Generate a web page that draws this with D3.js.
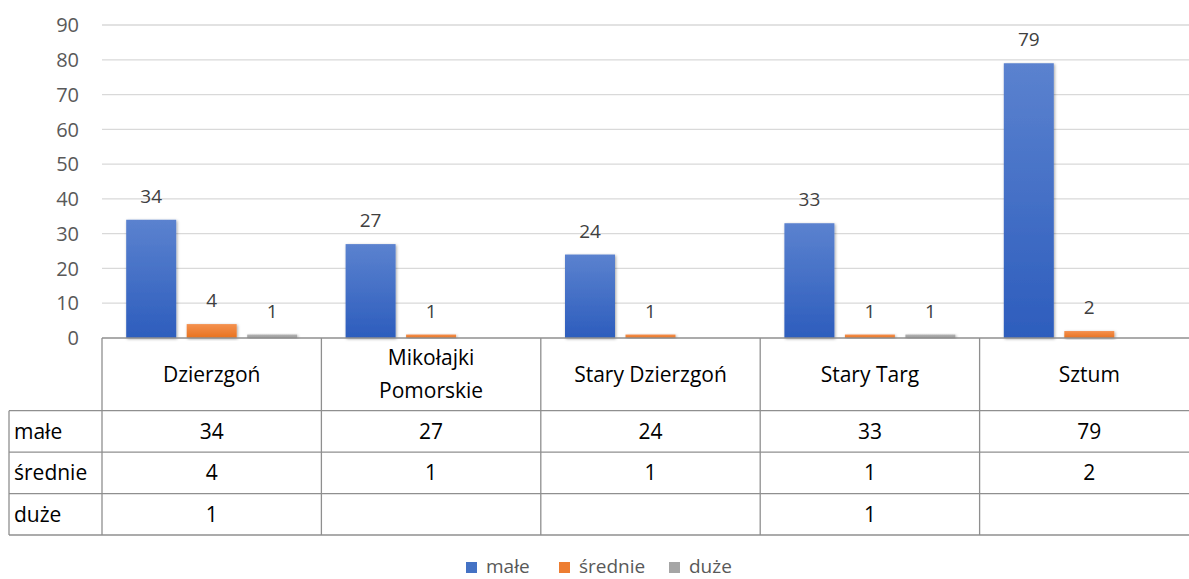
<!DOCTYPE html>
<html>
<head>
<meta charset="utf-8">
<script src="https://cdn.jsdelivr.net/npm/d3@7"></script>
<style>
  body { margin: 0; background: #fff; }
  text { font-family: "Open Sans", Lato, sans-serif; }
</style>
</head>
<body>
<div id="grafico"></div>
<script>
// Datos del grafico
var categorias = ["Dzierzgoń", "Mikołajki Pomorskie", "Stary Dzierzgoń", "Stary Targ", "Sztum"];
var series = ["małe", "średnie", "duże"];
var male = [34, 27, 24, 33, 79];
var srednie = [4, 1, 1, 1, 2];
var duze = [1, null, null, 1, null];
var ticksY = [0, 10, 20, 30, 40, 50, 60, 70, 80, 90];

var valores = [male, srednie, duze];
var colores = [["#5b82cf", "#2d5dbd"], ["#f4914f", "#e8721f"], ["#b3b3b3", "#999999"]];
var legendColor = ["#4472c4", "#ed7d31", "#a5a5a5"];

var W = 1189, H = 579;
var left = 102, right = 1199, top0 = 25, base = 338;
var rowH = [410.7, 452.2, 493.6, 535];
var tablaLeft = 9;

var svg = d3.select("#grafico").append("svg")
  .attr("width", W).attr("height", H);

var defs = svg.append("defs");
colores.forEach(function(c, i) {
  var g = defs.append("linearGradient").attr("id", "grad" + i)
    .attr("x1", 0).attr("y1", 0).attr("x2", 0).attr("y2", 1);
  g.append("stop").attr("offset", "0%").attr("stop-color", c[0]);
  g.append("stop").attr("offset", "100%").attr("stop-color", c[1]);
});
var f = defs.append("filter").attr("id", "sombra")
  .attr("x", "-20%").attr("y", "-20%").attr("width", "140%").attr("height", "140%");
f.append("feDropShadow").attr("dx", 1).attr("dy", 1).attr("stdDeviation", 1.5)
  .attr("flood-color", "#000").attr("flood-opacity", 0.35);

// Escalas
var x = d3.scaleBand().domain(categorias).range([left, right]).padding(0);
var xs = d3.scaleBand().domain(series).range([0, x.bandwidth()])
  .paddingInner(0.1736).paddingOuter(0.40);
var y = d3.scaleLinear().domain([0, 90]).range([base, top0]);

// Lineas de cuadricula
svg.append("g").selectAll("line").data(ticksY.slice(1)).enter().append("line")
  .attr("x1", left).attr("x2", W)
  .attr("y1", function(d) { return y(d); }).attr("y2", function(d) { return y(d); })
  .attr("stroke", "#d9d9d9").attr("stroke-width", 1.3);

// Etiquetas eje Y
svg.append("g").selectAll("text").data(ticksY).enter().append("text")
  .attr("x", 79).attr("y", function(d) { return y(d); })
  .attr("dy", "0.36em").attr("text-anchor", "end")
  .attr("fill", "#595959").style("font-size", "20px")
  .text(function(d) { return d; });

// Barras
var grupos = svg.append("g").selectAll("g").data(categorias).enter().append("g")
  .attr("transform", function(d) { return "translate(" + x(d) + ",0)"; });

series.forEach(function(s, si) {
  grupos.filter(function(d, i) { return valores[si][i] != null; })
    .append("rect")
    .attr("x", xs(s))
    .attr("width", xs.bandwidth())
    .attr("y", function(d) { return y(valores[si][categorias.indexOf(d)]); })
    .attr("height", function(d) { return base - y(valores[si][categorias.indexOf(d)]); })
    .attr("fill", "url(#grad" + si + ")")
    .attr("filter", "url(#sombra)");

  grupos.filter(function(d, i) { return valores[si][i] != null; })
    .append("text")
    .attr("x", xs(s) + xs.bandwidth() / 2)
    .attr("y", function(d) { return y(valores[si][categorias.indexOf(d)]) - 17; })
    .attr("text-anchor", "middle")
    .attr("fill", "#404040").style("font-size", "19px")
    .text(function(d) { return valores[si][categorias.indexOf(d)]; });
});

// Tabla de datos
var tabla = svg.append("g").attr("stroke", "#8f8f8f").attr("stroke-width", 1.3);
tabla.append("line").attr("x1", left).attr("x2", W).attr("y1", base).attr("y2", base);
rowH.forEach(function(r) {
  tabla.append("line").attr("x1", tablaLeft).attr("x2", W).attr("y1", r).attr("y2", r);
});
tabla.append("line").attr("x1", tablaLeft).attr("x2", tablaLeft).attr("y1", rowH[0]).attr("y2", rowH[3]);
categorias.forEach(function(c) {
  tabla.append("line").attr("x1", x(c)).attr("x2", x(c)).attr("y1", base).attr("y2", rowH[3]);
});

// Cabeceras de categorias
var cab = svg.append("g").selectAll("text").data(categorias).enter().append("text")
  .attr("text-anchor", "middle").attr("fill", "#000").style("font-size", "21px");
cab.each(function(d) {
  var t = d3.select(this);
  var lineas = d === "Mikołajki Pomorskie" ? ["Mikołajki", "Pomorskie"] : [d];
  var cx = x(d) + x.bandwidth() / 2;
  var cy = (base + rowH[0]) / 2;
  lineas.forEach(function(l, i) {
    t.append("tspan").attr("x", cx)
      .attr("y", cy + (i - (lineas.length - 1) / 2) * 33)
      .attr("dy", "0.36em").text(l);
  });
});

// Filas de la tabla
series.forEach(function(s, si) {
  var cy = (rowH[si] + rowH[si + 1]) / 2;
  svg.append("text").attr("x", tablaLeft + 5).attr("y", cy).attr("dy", "0.36em")
    .attr("fill", "#000").style("font-size", "21px").text(s);
  svg.append("g").selectAll("text").data(categorias).enter().append("text")
    .attr("x", function(d) { return x(d) + x.bandwidth() / 2; })
    .attr("y", cy).attr("dy", "0.36em").attr("text-anchor", "middle")
    .attr("fill", "#000").style("font-size", "21px")
    .text(function(d, i) { return valores[si][i] == null ? "" : valores[si][i]; });
});

// Leyenda
var legX = [466, 559, 669];
var ley = svg.append("g").selectAll("g").data(series).enter().append("g")
  .attr("transform", function(d, i) { return "translate(" + legX[i] + ",566)"; });
ley.append("rect").attr("x", 0).attr("y", -4).attr("width", 11).attr("height", 11)
  .attr("fill", function(d, i) { return legendColor[i]; });
ley.append("text").attr("x", 20).attr("y", 0).attr("dy", "0.36em")
  .attr("fill", "#595959").style("font-size", "19px")
  .text(function(d) { return d; });
</script>
</body>
</html>
